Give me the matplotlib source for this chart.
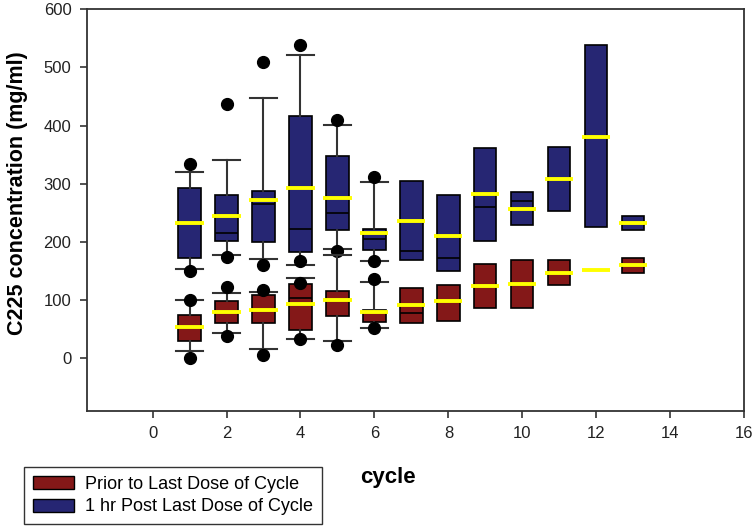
import matplotlib
matplotlib.use("Agg")
import matplotlib.pyplot as plt
from matplotlib.patches import Patch
import numpy as np

plt.rcParams['font.family'] = ['Liberation Sans', 'DejaVu Sans']

# cycles
cycles = list(range(1, 14))

# 1 hr post last dose (blue)
post_q1 = [173, 202, 200, 182, 220, 186, 169, 150, 202, 230, 253, 225, 221]
post_q3 = [293, 280, 287, 417, 347, 222, 305, 281, 362, 286, 363, 539, 245]
post_med = [232, 216, 265, 223, 250, 205, 184, 173, 261, 270, 308, 381, 233]
post_mean = [232, 245, 272, 292, 276, 216, 236, 210, 282, 257, 308, 381, 233]
post_whislo = [153, 177, 170, 161, 188, 168]
post_whishi = [321, 341, 448, 521, 401, 304]
post_fliers = [[334, 151], [437, 174], [509, 161], [539, 167], [409, 185], [312, 167]]

# prior to last dose (red), cycle 12 has only a mean
prior_cycles = [1, 2, 3, 4, 5, 6, 7, 8, 9, 10, 11, 13]
prior_q1 = [30, 60, 60, 48, 73, 62, 61, 64, 87, 87, 126, 146]
prior_q3 = [74, 98, 109, 128, 116, 83, 121, 126, 162, 169, 169, 173]
prior_med = [54, 79, 83, 103, 100, 80, 78, 99, 125, 128, 147, 160]
prior_mean = [54, 79, 83, 93, 100, 80, 91, 99, 125, 128, 147, 152, 160]
prior_whislo = [12, 43, 16, 34, 29, 52]
prior_whishi = [100, 113, 114, 138, 177, 131]
prior_fliers = [[101, 0], [122, 38], [118, 6], [129, 33], [23], [136, 52]]

blue = '#262673'
red = '#841818'
yellow = '#FFFF00'

def make_stats(q1, q3, med, lo=None, hi=None, fl=None):
    out = []
    for i in range(len(q1)):
        if lo is not None and i < len(lo):
            wl, wh, f = lo[i], hi[i], fl[i]
        else:
            wl, wh, f = q1[i], q3[i], []
        out.append({'med': med[i], 'q1': q1[i], 'q3': q3[i],
                    'whislo': wl, 'whishi': wh, 'fliers': f})
    return out

fig = plt.figure(figsize=(7.56, 5.29), dpi=100)
ax = fig.add_axes([0.1147, 0.2236, 0.8698, 0.7588])

def draw(stats, pos, color):
    kw = dict(widths=0.6, patch_artist=True, manage_ticks=False,
              boxprops=dict(facecolor=color, edgecolor='black', linewidth=1.2),
              medianprops=dict(color='black', linewidth=1.2),
              whiskerprops=dict(color='#333333', linewidth=1.5),
              capprops=dict(color='#333333', linewidth=1.5),
              flierprops=dict(marker='o', markerfacecolor='black', markeredgecolor='black',
                              markersize=8.5, linestyle='none'))
    # cycles 1-6 with whiskers and outliers
    ax.bxp(stats[:6], positions=pos[:6], capwidths=0.72, **kw)
    ax.bxp(stats[6:], positions=pos[6:], showcaps=False, showfliers=False, **kw)

post_stats = make_stats(post_q1, post_q3, post_med, post_whislo, post_whishi, post_fliers)
prior_stats = make_stats(prior_q1, prior_q3, prior_med, prior_whislo, prior_whishi, prior_fliers)
draw(post_stats, cycles, blue)
draw(prior_stats, prior_cycles, red)

c = np.array(cycles)
ax.hlines(post_mean, c - 0.38, c + 0.38, color=yellow, linewidth=2.8, zorder=5)
ax.hlines(prior_mean, c - 0.38, c + 0.38, color=yellow, linewidth=2.8, zorder=5)

ax.set_xlim(-1.78, 16)
ax.set_ylim(-90, 600)
ax.set_xticks(range(0, 17, 2))
ax.set_yticks(range(0, 601, 100))
ax.tick_params(direction='out', length=5, width=1.2, color='#333333',
               labelsize=12, labelcolor='#222222', pad=6)
for s in ax.spines.values():
    s.set_color('#333333')
    s.set_linewidth(1.3)

fig.text(18 / 756, 1 - 193 / 529, 'C225 concentration (mg/ml)', rotation=90,
         ha='center', va='center', fontsize=15.5, fontweight='bold')
fig.text(388 / 756, 1 - 477 / 529, 'cycle', ha='center', va='center',
         fontsize=16, fontweight='bold')

handles = [Patch(facecolor=red, edgecolor='black', linewidth=1),
           Patch(facecolor=blue, edgecolor='black', linewidth=1)]
leg = fig.legend(handles, ['Prior to Last Dose of Cycle', '1 hr Post Last Dose of Cycle'],
                 loc='upper left', bbox_to_anchor=(23.5 / 756, 1 - 467 / 529),
                 borderaxespad=0, fontsize=13, frameon=True, fancybox=False,
                 edgecolor='#333333', framealpha=1, handlelength=2.3,
                 handleheight=0.75, handletextpad=0.6, labelspacing=0.3,
                 borderpad=0.5)
leg.get_frame().set_linewidth(1.0)

fig.savefig('out.png', dpi=100)
